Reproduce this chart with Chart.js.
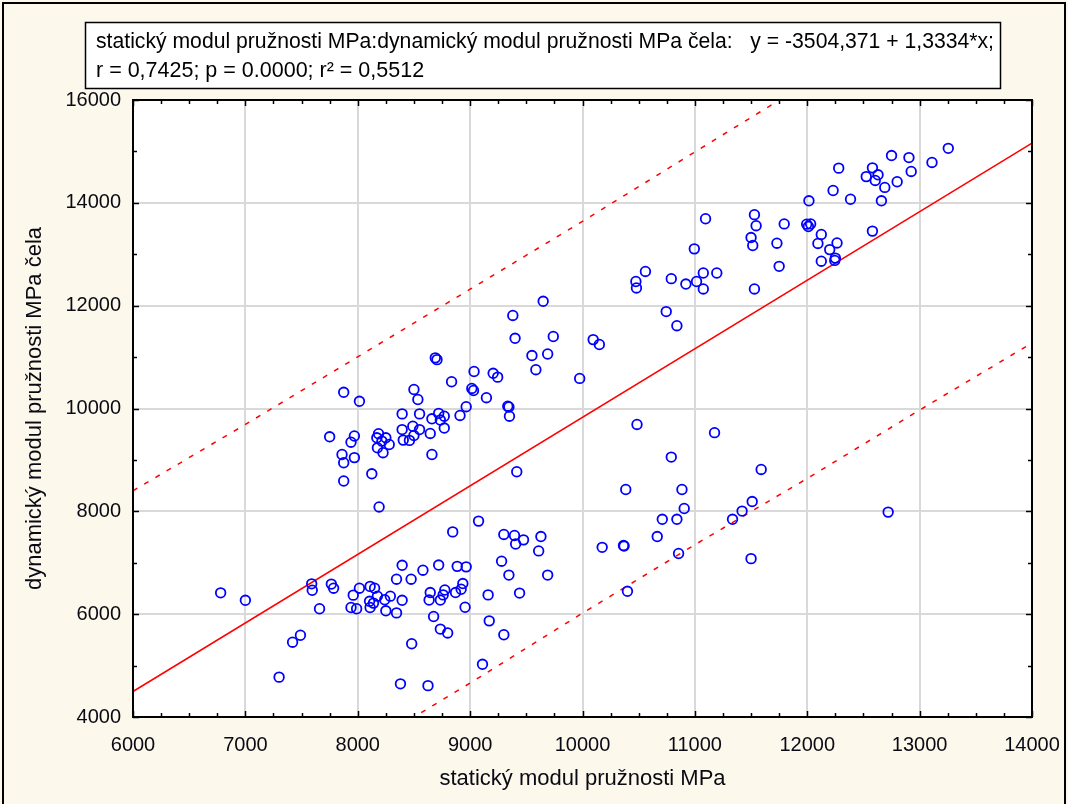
<!DOCTYPE html>
<html>
<head>
<meta charset="utf-8">
<title>statický / dynamický modul pružnosti</title>
<script src="https://cdn.jsdelivr.net/npm/chart.js@4.4.0/dist/chart.umd.min.js"></script>
<style>
    html, body { margin: 0; padding: 0; background: #fdf8ec; }
    #wrap { width: 1068px; height: 804px; }
</style>
</head>
<body>
<div id="wrap"><canvas id="chart1" width="1068" height="804"></canvas></div>
<script>
// naměřené hodnoty (MPa)
var staticModulus = [
    8690, 8705, 8835, 7875, 8015, 8500, 8535, 8395, 8550, 8720, 8770, 8660, 8735, 8910, 8965, 8770, 8490, 8550, 8395, 8500,
    8405, 8460, 8645, 8660, 7750, 7970, 7940, 8185, 8170, 8250, 8215, 8280, 8175, 8225, 7860, 7875, 7970, 8125, 7875, 8190,
    9650, 9380, 9400, 9740, 10095, 10150, 9550, 9690, 9585, 9975, 9035, 9205, 9245, 9015, 9030, 9145, 9335, 9345, 9350, 9415,
    10385, 10485,
    11095, 11530, 11545, 11795, 11500, 11515, 11730, 11750, 10995, 10560, 10475, 10480, 10790, 10920, 11015, 11075, 11195, 11075,
    11530, 10745, 10840,
    11175, 10790, 11590, 10885, 10905, 10710, 10840, 10665, 10370, 10855, 11500, 11510, 11420, 11335, 12720,
    13255, 12750, 12905, 13110, 12925, 12280, 12580, 12525, 12630, 12605, 12690, 12800, 12230, 12385, 12660, 12015, 11995, 12010,
    12030, 12125, 12095, 12265, 12200, 12125, 12250, 12245, 12580,
    6780, 7000, 7300, 7420, 7490, 7660, 7590, 7595, 7765, 7785, 8845, 8395, 8580, 8720, 8885, 8965, 8345, 8475, 8935, 8920,
    8870, 8775, 8760, 8735, 8645, 8635, 8015, 7960, 8110, 8150, 8175, 8105, 8110, 8140, 8290, 8240, 8395, 7940, 7990, 8250,
    8345, 8675, 8735, 8800, 8480, 8380, 8625,
    9075, 9300, 9395, 9405, 9475, 9630, 9610, 9280, 9345, 9690, 9160, 9440, 8955, 9170, 9300, 9110, 10175, 10365, 10400
];
var dynamicModulus = [
    10985, 10950, 10520, 10315, 10140, 10370, 10175, 9895, 9895, 9905, 9850, 9800, 9775, 9865, 10035, 9620, 9655, 9590, 9590, 9475,
    9385, 9380, 9515, 9105, 9450, 9465, 9345, 9510, 9430, 9430, 9365, 9300, 9235, 9140, 9105, 8945, 9045, 8730, 8590, 8085,
    12085, 11810, 11365, 11400, 11340, 11245, 11030, 11060, 10755, 10585, 10720, 10685, 10610, 10390, 10350, 10210, 10045, 10030, 9850, 8770,
    8425, 9690,
    13690, 13770, 13555, 13590, 13325, 13170, 13215, 12765, 13105, 12665, 12470, 12345, 12525, 12420, 12470, 12635, 12635, 12325,
    12325, 11885, 11610,
    9530, 9055, 8815, 8425, 8055, 7845, 7845, 7510, 7325, 7180, 7080, 8190, 8005, 7845, 7985,
    15060, 14920, 14880, 14785, 14610, 14675, 14680, 14510, 14545, 14435, 14300, 14410, 14240, 14070, 14040, 14040, 13585, 13540,
    13590, 13385, 13210, 13220, 13090, 12865, 12925, 12880, 13450,
    6415, 6270, 4775, 5455, 5590, 6105, 6590, 6465, 6585, 6505, 7600, 6950, 6855, 6955, 6930, 6920, 6680, 6680, 6595, 6485,
    6420, 6470, 6375, 6275, 6420, 6275, 6505, 6370, 6540, 6505, 6350, 6250, 6130, 6215, 6350, 6280, 6270, 6130, 6105, 6065,
    6025, 5955, 5710, 5635, 5425, 4645, 4610,
    7810, 7550, 7530, 7365, 7445, 7510, 7230, 7030, 6760, 6760, 6375, 6410, 6135, 5870, 5600, 5025, 7300, 7335, 6445
];

// regresní přímka y = a + b*x
var intercept = -3504.371;
var slope = 1.3334;

// meze predikčního intervalu
var bandX = [6000, 7000, 8000, 9000, 10000, 11000, 12000, 13000, 14000];
var upperBand = [8400, 9690, 11005, 12320, 13640, 14990, 16330, 17660, 19000];
var lowerBand = [650, 1990, 3340, 4660, 6020, 7350, 8640, 9970, 11275];

var xTicks = [6000, 14000, 1000];
var yTicks = [4000, 16000, 2000];

var headerLine1 = 'statický modul pružnosti MPa:dynamický modul pružnosti MPa čela:   y = -3504,371 + 1,3334*x;';
var headerLine2 = 'r = 0,7425; p = 0.0000; r² = 0,5512';

var fontFamily = '"Liberation Sans", Arial, sans-serif';

function toPoints(xs, ys) {
    var out = [];
    for (var i = 0; i < xs.length; i++) {
        out.push({ x: xs[i], y: ys[i] });
    }
    return out;
}

var regression = [
    { x: xTicks[0], y: intercept + slope * xTicks[0] },
    { x: xTicks[1], y: intercept + slope * xTicks[1] }
];

// pozadí, rámeček grafu, značky os a hlavička
var framePlugin = {
    id: 'frame',
    beforeDraw: function (chart) {
        var ctx = chart.ctx;
        var a = chart.chartArea;
        ctx.save();
        ctx.fillStyle = '#fdf8ec';
        ctx.fillRect(0, 0, chart.width, chart.height);
        ctx.fillStyle = '#ffffff';
        ctx.fillRect(a.left, a.top, a.right - a.left, a.bottom - a.top);
        ctx.restore();
    },
    afterDraw: function (chart) {
        var ctx = chart.ctx;
        var a = chart.chartArea;
        var sx = chart.scales.x;
        var sy = chart.scales.y;
        ctx.save();

        // ticks pointing inward on all four sides
        ctx.strokeStyle = '#000';
        ctx.lineWidth = 1.5;
        ctx.beginPath();
        for (var v = xTicks[0]; v <= xTicks[1]; v += 250) {
            var px = Math.round(sx.getPixelForValue(v)) + 0.5;
            var len = (v % 1000 === 0) ? 6 : 4;
            ctx.moveTo(px, a.bottom);
            ctx.lineTo(px, a.bottom - len);
            ctx.moveTo(px, a.top);
            ctx.lineTo(px, a.top + len);
        }
        for (var w = yTicks[0]; w <= yTicks[1]; w += 1000) {
            var py = Math.round(sy.getPixelForValue(w)) + 0.5;
            var l2 = (w % 2000 === 0) ? 6 : 4;
            ctx.moveTo(a.left, py);
            ctx.lineTo(a.left + l2, py);
            ctx.moveTo(a.right, py);
            ctx.lineTo(a.right - l2, py);
        }
        ctx.stroke();

        // plot border
        ctx.lineWidth = 2;
        ctx.strokeRect(a.left, a.top, a.right - a.left, a.bottom - a.top);

        // header box
        ctx.fillStyle = '#ffffff';
        ctx.fillRect(85, 22, 915, 66);
        ctx.lineWidth = 1.5;
        ctx.strokeStyle = '#000';
        ctx.strokeRect(85.5, 22.5, 915, 66);
        ctx.fillStyle = '#000';
        ctx.font = '21.5px ' + fontFamily;
        ctx.textBaseline = 'alphabetic';
        ctx.textAlign = 'left';
        ctx.fillText(headerLine1, 96, 48, 898);
        ctx.fillText(headerLine2, 96, 77);

        // outer frame
        ctx.lineWidth = 2;
        ctx.strokeRect(3, 3, 1062, 820);
        ctx.restore();
    }
};

var ctx1 = document.getElementById('chart1');
var myChart = new Chart(ctx1, {
    type: 'scatter',
    data: {
        datasets: [{
            label: 'data',
            data: toPoints(staticModulus, dynamicModulus),
            pointStyle: 'circle',
            pointRadius: 4.8,
            borderWidth: 1.8,
            borderColor: '#0000ff',
            backgroundColor: 'rgba(0, 0, 0, 0)'
        }, {
            label: 'regrese',
            data: regression,
            showLine: true,
            pointRadius: 0,
            borderColor: '#ff0000',
            borderWidth: 1.5
        }, {
            label: 'horní mez',
            data: toPoints(bandX, upperBand),
            showLine: true,
            pointRadius: 0,
            borderColor: '#ff0000',
            borderWidth: 1.5,
            borderDash: [5, 8]
        }, {
            label: 'dolní mez',
            data: toPoints(bandX, lowerBand),
            showLine: true,
            pointRadius: 0,
            borderColor: '#ff0000',
            borderWidth: 1.5,
            borderDash: [5, 8]
        }]
    },
    options: {
        responsive: false,
        animation: false,
        devicePixelRatio: 1,
        layout: {
            padding: { top: 100, right: 36, left: 0, bottom: 0 }
        },
        plugins: {
            legend: { display: false },
            tooltip: { enabled: false },
            title: { display: false }
        },
        scales: {
            x: {
                type: 'linear',
                min: xTicks[0],
                max: xTicks[1],
                afterFit: function (scale) {
                    scale.height = 87;
                    scale.paddingLeft = 0;
                    scale.paddingRight = 0;
                },
                ticks: {
                    stepSize: xTicks[2],
                    padding: 16,
                    color: '#0a0a14',
                    font: { family: fontFamily, size: 20 },
                    callback: function (value) { return String(value); }
                },
                grid: { color: '#d9d9d9', lineWidth: 2, drawTicks: false },
                border: { display: false },
                title: {
                    display: true,
                    text: 'statický modul pružnosti MPa',
                    color: '#0a0a14',
                    font: { family: fontFamily, size: 22 },
                    padding: { top: 0, bottom: 12 }
                }
            },
            y: {
                type: 'linear',
                min: yTicks[0],
                max: yTicks[1],
                afterFit: function (scale) {
                    scale.width = 133;
                    scale.paddingTop = 0;
                    scale.paddingBottom = 0;
                },
                ticks: {
                    stepSize: yTicks[2],
                    padding: 12,
                    color: '#0a0a14',
                    font: { family: fontFamily, size: 20 },
                    callback: function (value) { return String(value); }
                },
                grid: { color: '#d9d9d9', lineWidth: 2, drawTicks: false },
                border: { display: false },
                title: {
                    display: true,
                    text: 'dynamický modul pružnosti MPa čela',
                    color: '#0a0a14',
                    font: { family: fontFamily, size: 22 },
                    padding: { top: 22, bottom: 0 }
                }
            }
        }
    },
    plugins: [framePlugin]
});
</script>
</body>
</html>
